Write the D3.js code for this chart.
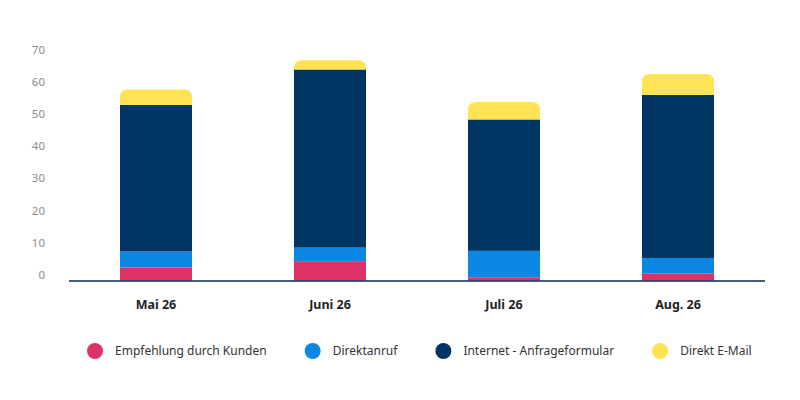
<!DOCTYPE html>
<html>
<head>
<meta charset="utf-8">
<script src="https://cdn.jsdelivr.net/npm/d3@7"></script>
<style>
  body { margin: 0; background: #fff; }
  svg { font-family: "Noto Sans", "Open Sans", sans-serif; }
</style>
</head>
<body>
<div id="chart"></div>
<script>
const months = ['Mai 26', 'Juni 26', 'Juli 26', 'Aug. 26']
const seriesNames = ['Empfehlung durch Kunden', 'Direktanruf', 'Internet - Anfrageformular', 'Direkt E-Mail']
const empfehlung = [4, 6, 1, 2.2]
const direktanruf = [5, 4.2, 8.2, 4.8]
const internet = [45.5, 55.3, 40.8, 50.6]
const email = [4.8, 2.9, 5.4, 6.5]
const yTicks = [0, 10, 20, 30, 40, 50, 60, 70]
const colors = ['#de3266', '#0b87e3', '#003463', '#ffe354']

const width = 800, height = 400
const margin = { top: 55, right: 35, bottom: 119.5, left: 69 }

const svg = d3.select('#chart').append('svg')
	.attr('width', width)
	.attr('height', height)

const rows = months.map((m, i) => ({
	month: m,
	s0: empfehlung[i],
	s1: direktanruf[i],
	s2: internet[i],
	s3: email[i]
}))
const keys = ['s0', 's1', 's2', 's3']
const stacked = d3.stack().keys(keys)(rows)

const x = d3.scaleBand()
	.domain(months)
	.range([margin.left, width - margin.right])
	.paddingInner(0.586)
	.paddingOuter(0.293)

const y = d3.scaleLinear()
	.domain([0, 70])
	.range([height - margin.bottom, margin.top])

// y labels (sit just above their value)
svg.append('g')
	.selectAll('text')
	.data(yTicks)
	.enter()
	.append('text')
	.attr('x', 45)
	.attr('y', d => y(d) - 1.5)
	.attr('text-anchor', 'end')
	.attr('fill', '#8c8c8c')
	.attr('font-size', 11.5)
	.text(d => d)

const r = 8
function topRounded(x0, y0, w, h) {
	const rr = Math.min(r, h, w / 2)
	return `M${x0},${y0 + h}V${y0 + rr}Q${x0},${y0} ${x0 + rr},${y0}H${x0 + w - rr}Q${x0 + w},${y0} ${x0 + w},${y0 + rr}V${y0 + h}Z`
}

// bars
stacked.forEach((layer, li) => {
	const g = svg.append('g').attr('fill', colors[li])
	layer.forEach((d, i) => {
		const x0 = x(months[i])
		const y1 = y(d[1]), y0 = y(d[0])
		if (li === keys.length - 1) {
			g.append('path').attr('d', topRounded(x0, y1, x.bandwidth(), y0 - y1))
		} else {
			g.append('rect')
				.attr('x', x0)
				.attr('y', y1)
				.attr('width', x.bandwidth())
				.attr('height', y0 - y1)
		}
	})
})

// x axis line
svg.append('line')
	.attr('x1', margin.left)
	.attr('x2', width - margin.right)
	.attr('y1', y(0) + 0.5)
	.attr('y2', y(0) + 0.5)
	.attr('stroke', '#002a55')
	.attr('stroke-width', 1.3)

// x labels
svg.append('g')
	.selectAll('text')
	.data(months)
	.enter()
	.append('text')
	.attr('x', d => x(d) + x.bandwidth() / 2)
	.attr('y', 309)
	.attr('text-anchor', 'middle')
	.attr('font-size', 12.5)
	.attr('font-weight', 'bold')
	.attr('fill', '#222')
	.text(d => d)

// legend
const legend = svg.append('g').attr('transform', 'translate(0,351)')
let lx = 95
seriesNames.forEach((name, i) => {
	const item = legend.append('g').attr('transform', `translate(${lx},0)`)
	item.append('circle').attr('r', 8).attr('fill', colors[i])
	const t = item.append('text')
		.attr('x', 20)
		.attr('y', 4.3)
		.attr('font-size', 12)
		.attr('fill', '#333')
		.text(name)
	lx += 20 + t.node().getComputedTextLength() + 46
})
</script>
</body>
</html>
